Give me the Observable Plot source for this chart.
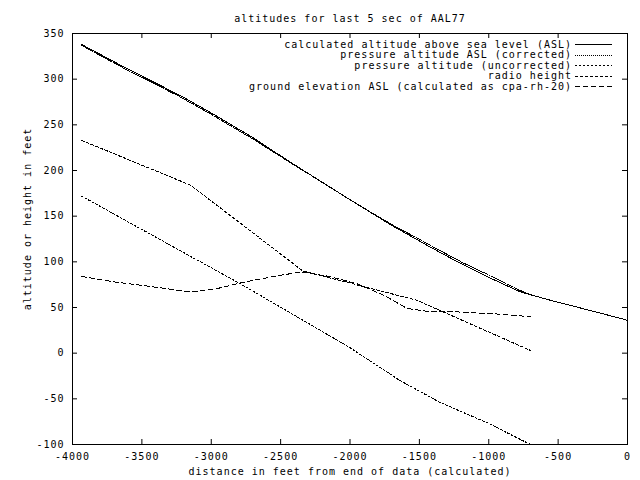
<!DOCTYPE html>
<html><head><meta charset="utf-8">
<script src="https://cdn.jsdelivr.net/npm/d3@7"></script>
<script src="https://cdn.jsdelivr.net/npm/@observablehq/plot@0.6"></script>
<style>
html,body{margin:0;padding:0;background:#fff;}
#chart svg{display:block;}
</style>
</head><body><div id="chart"></div>
<script>
const title = "altitudes for last 5 sec of AAL77";
const xLabel = "distance in feet from end of data (calculated)";
const yLabel = "altitude or height in feet";
const xTicks = [-4000, -3500, -3000, -2500, -2000, -1500, -1000, -500, 0];
const yTicks = [-100, -50, 0, 50, 100, 150, 200, 250, 300, 350];
const seriesNames = [
  "calculated altitude above sea level (ASL)",
  "pressure altitude ASL (corrected)",
  "pressure altitude (uncorrected)",
  "radio height",
  "ground elevation ASL (calculated as cpa-rh-20)"
];
const seriesDash = ["none", "1,1", "2,2", "3,2", "5,3"];

const calcX = [-3935, -3600, -3222, -3000, -2700, -2429, -2000, -1700, -1420, -1200, -1000, -771, -533, -250, 0];
const calcY = [338, 311, 282, 263, 236, 209, 168, 140, 116, 98, 83, 67, 57, 46, 36];
const pcorrX = [-3935, -3600, -3222, -3000, -2700, -2429, -2000, -1700, -1420, -1200, -1000, -771, -700];
const pcorrY = [337, 309.5, 280.5, 261.5, 234.5, 208.5, 168, 141, 118, 100, 85.5, 68.5, 64];
const puncX = [-3935, -3150, -2790, -2000, -1640, -1350, -1000, -700];
const puncY = [172, 106, 76, 6, -30, -54, -77, -100];
const radioX = [-3935, -3150, -2340, -1520, -700];
const radioY = [233, 184, 90, 58, 3];
const groundX = [-3935, -3700, -3438, -3150, -2950, -2789, -2550, -2350, -2150, -1950, -1750, -1590, -1450, -1200, -950, -700];
const groundY = [84, 78, 73, 67, 71, 77, 84, 89, 84, 76, 63, 49, 46, 45, 43, 40];

const seriesX = [calcX, pcorrX, puncX, radioX, groundX];
const seriesY = [calcY, pcorrY, puncY, radioY, groundY];

const W = 640, H = 480, mL = 72, mR = 13, mT = 33, mB = 36;
const plotW = W - mL - mR, plotH = H - mT - mB;
const font = "'DejaVu Sans Mono', 'Liberation Mono', monospace";

const lineMarks = seriesX.map((xs, s) => {
  const rows = xs.map((x, i) => ({x, y: seriesY[s][i]}));
  return Plot.line(rows, {x: "x", y: "y", stroke: "black", strokeWidth: 1,
    strokeDasharray: seriesDash[s] === "none" ? null : seriesDash[s], curve: "linear"});
});

const chart = Plot.plot({
  width: W, height: H,
  marginLeft: mL, marginRight: mR, marginTop: mT, marginBottom: mB,
  style: {fontFamily: font, fontSize: "10px", background: "white", color: "black", letterSpacing: "1px"},
  x: {domain: [-4000, 0]},
  y: {domain: [-100, 350]},
  marks: [
    ...lineMarks,
    Plot.frame({stroke: "black", strokeWidth: 1}),
    Plot.axisX(xTicks, {tickSize: 0, tickPadding: 8, tickFormat: d => String(d), label: null, fill: "black"}),
    Plot.axisY(yTicks, {tickSize: 0, tickPadding: 8, tickFormat: d => String(d), label: null, fill: "black"}),
    Plot.tickX(xTicks, {x: d => d, insetTop: plotH - 5, stroke: "black"}),
    Plot.tickX(xTicks, {x: d => d, insetBottom: plotH - 5, stroke: "black"}),
    Plot.tickY(yTicks, {y: d => d, insetRight: plotW - 5, stroke: "black"}),
    Plot.tickY(yTicks, {y: d => d, insetLeft: plotW - 5, stroke: "black"}),
    Plot.text([title], {text: d => d, frameAnchor: "top", dy: -19, fill: "black", fontSize: 10}),
    Plot.text([xLabel], {text: d => d, frameAnchor: "bottom", dy: 30, fill: "black", fontSize: 10}),
    Plot.text([yLabel], {text: d => d, frameAnchor: "left", textAnchor: "middle", dx: -45, dy: -20, rotate: -90, fill: "black", fontSize: 10})
  ]
});
document.getElementById("chart").appendChild(chart);

// render data lines aliased like the original bitmap plot
d3.select(chart).selectAll("path").filter(function() {
  return this.closest("g[aria-label='line']") !== null;
}).attr("shape-rendering", "crispEdges");

// legend inside frame, top-right
const svg = d3.select(chart);
const lg = svg.append("g").attr("font-family", font).attr("font-size", 10).attr("letter-spacing", "1px");
seriesNames.forEach((name, i) => {
  const cy = 44.5 + i * 10.5;
  lg.append("text").attr("x", 572).attr("y", cy).attr("dy", "0.32em")
    .attr("text-anchor", "end").attr("fill", "black").text(name);
  const ln = lg.append("line").attr("x1", 575).attr("x2", 612).attr("y1", cy).attr("y2", cy)
    .attr("stroke", "black").attr("stroke-width", 1).attr("shape-rendering", "crispEdges");
  if (seriesDash[i] !== "none") ln.attr("stroke-dasharray", seriesDash[i]);
});
</script>
</body></html>
